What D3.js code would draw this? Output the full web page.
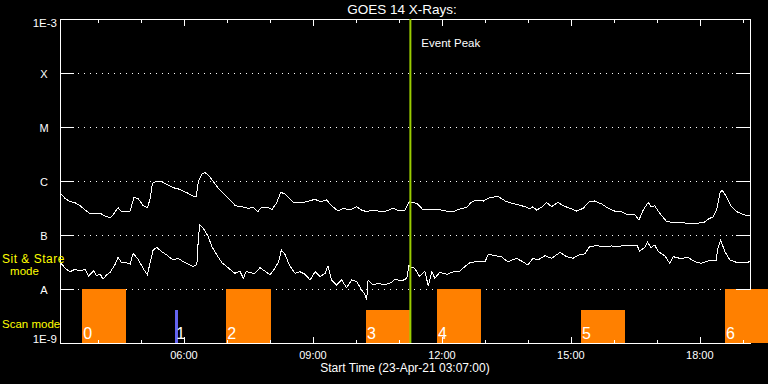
<!DOCTYPE html>
<html><head><meta charset="utf-8">
<script src="https://cdn.jsdelivr.net/npm/d3@7"></script>
<style>
html,body{margin:0;padding:0;background:#000;}
svg{display:block;}
text{font-family:"Liberation Sans",Arial,sans-serif;fill:#fff;}
</style></head><body>
<svg id="c" width="768" height="384"></svg>
<script>
// ---------- data ----------
const chartTitle = "GOES 14 X-Rays:";
const startLabel = "Start Time (23-Apr-21 03:07:00)";
const startTime = "03:07";
const endMinutes = 963;
const eventLabel = "Event Peak";
const eventTime = "11:16";

const yTickValues = [1e-9, 1e-8, 1e-7, 1e-6, 1e-5, 1e-4, 1e-3];
const yTickLabels = ["1E-9", "A", "B", "C", "M", "X", "1E-3"];
const xTickLabels = ["06:00", "09:00", "12:00", "15:00", "18:00"];

// 1-8 Angstrom channel (upper curve): minutes after start, flux W/m^2
const longMinutes = [0,7,14,21,28,35,42,49,56,63,70,74,81,86,93,98,103,109,116,122,126,129,135,142,149,158,167,177,186,190,193,198,202,207,214,223,233,242,
244,254,263,270,276,281,291,296,302,308,313,319,326,335,344,356,363,372,379,388,395,405,414,421,428,435,444,453,465,472,481,486,
488,498,507,516,526,535,549,560,567,574,581,591,600,612,623,637,649,656,660,665,672,679,686,695,702,712,721,730,
739,746,756,765,774,784,793,802,808,814,821,825,830,837,847,856,867,877,886,898,905,912,917,921,924,930,937,946,956,963];
const longFlux = [6.07e-7,4.78e-7,4.14e-7,3.96e-7,3.49e-7,2.90e-7,2.48e-7,2.45e-7,2.52e-7,2.25e-7,2.06e-7,2.35e-7,3.20e-7,2.70e-7,2.70e-7,2.78e-7,4.90e-7,4.78e-7,3.49e-7,3.20e-7,4.78e-7,9.07e-7,1.00e-6,9.70e-7,8.69e-7,7.52e-7,7.02e-7,6.07e-7,5.28e-7,5.12e-7,9.70e-7,1.33e-6,1.45e-6,1.29e-6,9.70e-7,6.81e-7,5.12e-7,3.86e-7,
3.49e-7,3.34e-7,3.12e-7,3.25e-7,2.70e-7,3.25e-7,3.20e-7,2.99e-7,3.86e-7,6.07e-7,5.92e-7,4.90e-7,4.03e-7,3.91e-7,4.14e-7,4.58e-7,4.14e-7,4.45e-7,3.49e-7,2.78e-7,3.12e-7,2.90e-7,3.34e-7,2.90e-7,2.70e-7,2.90e-7,2.78e-7,2.70e-7,3.12e-7,2.82e-7,2.82e-7,3.86e-7,
4.14e-7,3.86e-7,2.90e-7,2.99e-7,3.03e-7,2.82e-7,2.70e-7,3.12e-7,3.20e-7,4.03e-7,4.45e-7,4.26e-7,4.99e-7,5.12e-7,4.14e-7,3.70e-7,3.34e-7,3.03e-7,3.34e-7,2.90e-7,3.25e-7,4.03e-7,3.34e-7,4.03e-7,3.49e-7,3.12e-7,2.78e-7,3.12e-7,
4.14e-7,4.26e-7,3.75e-7,3.12e-7,2.78e-7,2.70e-7,2.35e-7,2.42e-7,1.90e-7,2.90e-7,4.03e-7,3.34e-7,3.49e-7,2.52e-7,1.76e-7,1.72e-7,1.69e-7,1.65e-7,1.65e-7,1.69e-7,1.98e-7,2.18e-7,3.12e-7,5.92e-7,6.81e-7,5.12e-7,3.34e-7,2.63e-7,2.35e-7,2.28e-7];

// 0.5-4 Angstrom channel (lower curve)
const shortMinutes = [0,7,14,21,28,35,40,47,51,56,60,65,70,77,81,86,93,98,102,109,116,122,126,130,135,142,149,158,165,172,179,186,191,193,195,200,207,212,219,226,233,242,
244,251,256,260,265,272,279,286,293,300,305,309,314,319,323,328,335,342,349,356,363,370,374,379,386,393,400,407,414,421,426,428,430,437,444,453,463,467,477,484,487,
488,495,502,509,514,519,523,530,540,549,558,565,572,581,593,598,607,616,625,637,646,653,660,667,677,686,698,707,716,726,730,
733,739,749,760,770,779,788,798,805,809,816,820,825,830,835,844,851,856,865,877,886,895,905,916,918,922,928,935,944,956,963];
const shortFlux = [3.20e-8,2.42e-8,2.09e-8,2.32e-8,2.15e-8,2.32e-8,1.74e-8,2.15e-8,1.76e-8,1.90e-8,1.51e-8,1.82e-8,2.04e-8,2.87e-8,3.86e-8,3.07e-8,3.07e-8,2.87e-8,4.58e-8,3.55e-8,2.42e-8,1.82e-8,3.20e-8,5.28e-8,5.92e-8,4.90e-8,4.26e-8,3.44e-8,3.70e-8,3.20e-8,2.90e-8,2.59e-8,2.87e-8,8.08e-8,1.53e-7,1.33e-7,9.30e-8,6.07e-8,4.26e-8,3.07e-8,2.59e-8,2.04e-8,
1.95e-8,2.15e-8,1.58e-8,2.15e-8,2.00e-8,1.95e-8,2.48e-8,2.15e-8,1.82e-8,2.42e-8,3.20e-8,5.28e-8,4.39e-8,2.99e-8,2.42e-8,1.95e-8,2.09e-8,1.87e-8,1.47e-8,2.09e-8,1.69e-8,1.95e-8,2.70e-8,1.47e-8,1.19e-8,1.47e-8,1.06e-8,1.47e-8,1.37e-8,9.58e-9,7.74e-9,6.26e-9,1.47e-8,1.19e-8,1.27e-8,1.19e-8,1.33e-8,1.51e-8,1.41e-8,1.58e-8,2.78e-8,
2.59e-8,2.42e-8,1.69e-8,2.15e-8,1.15e-8,2.09e-8,1.58e-8,2.04e-8,1.87e-8,2.09e-8,2.15e-8,2.59e-8,3.07e-8,3.20e-8,3.20e-8,4.39e-8,4.14e-8,3.96e-8,3.20e-8,3.70e-8,3.20e-8,2.78e-8,3.70e-8,3.44e-8,4.14e-8,3.70e-8,4.78e-8,3.96e-8,3.70e-8,4.39e-8,4.26e-8,
4.58e-8,6.07e-8,6.34e-8,6.07e-8,6.26e-8,6.07e-8,6.53e-8,6.26e-8,6.53e-8,5.06e-8,5.84e-8,7.33e-8,5.84e-8,6.53e-8,4.90e-8,4.14e-8,2.99e-8,3.96e-8,3.70e-8,3.80e-8,3.20e-8,2.99e-8,3.30e-8,3.44e-8,5.67e-8,8.08e-8,4.90e-8,3.44e-8,3.12e-8,3.07e-8,3.20e-8];

// observation blocks
const obsLabels = ["0", "1", "2", "3", "4", "5", "6"];
const obsStart = ["03:38", "05:48", "06:59", "10:14", "11:53", "15:14", "18:35"];
const obsEnd   = ["04:39", "05:51", "08:01", "11:15", "12:55", "16:15", "19:35"];
const obsLevel = [1e-8, 4.1e-9, 1e-8, 4.1e-9, 1e-8, 4.1e-9, 1e-8];
const obsType  = ["raster", "stare", "raster", "raster", "raster", "raster", "raster"];

const modeLabels = ["Sit & Stare", "mode", "Scan mode"];

// ---------- drawing ----------
const svg = d3.select("#c");
const L = 60, R = 750, T = 19, B = 343;
const [sh, sm] = startTime.split(":").map(Number);
const t0 = Date.UTC(2021, 3, 23, sh, sm);
const toDate = m => new Date(t0 + m * 60000);
const hm = s => { const [h, mi] = s.split(":").map(Number); return new Date(Date.UTC(2021, 3, 23, h, mi)); };

const x = d3.scaleUtc().domain([toDate(0), toDate(endMinutes)]).range([L, R]);
const y = d3.scaleLog().domain([1e-9, 1e-3]).range([B, T]);

svg.append("rect").attr("width", 768).attr("height", 384).attr("fill", "#000");

const g = svg.append("g").attr("shape-rendering", "crispEdges");

// dotted grid
const inner = yTickValues.slice(1, -1);
g.selectAll(".grid").data(inner).join("line")
  .attr("x1", L).attr("x2", R)
  .attr("y1", d => Math.round(y(d)) + 0.5).attr("y2", d => Math.round(y(d)) + 0.5)
  .attr("stroke", "#fff").attr("stroke-dasharray", "1,5");

// right axis line (under blocks)
g.append("line").attr("x1", R + 0.5).attr("x2", R + 0.5).attr("y1", T).attr("y2", B + 1).attr("stroke", "#fff");

// blocks
const typeColor = { raster: "#ff8000", stare: "#6464f0" };
g.selectAll(".blk").data(obsLabels).join("rect")
  .attr("x", (d, i) => x(hm(obsStart[i])))
  .attr("width", (d, i) => x(hm(obsEnd[i])) - x(hm(obsStart[i])))
  .attr("y", (d, i) => y(obsLevel[i]))
  .attr("height", (d, i) => B - y(obsLevel[i]))
  .attr("fill", (d, i) => typeColor[obsType[i]]);

// y ticks both sides
inner.forEach(v => {
  const yy = Math.round(y(v)) + 0.5;
  g.append("line").attr("x1", L).attr("x2", L + 14).attr("y1", yy).attr("y2", yy).attr("stroke", "#fff");
  g.append("line").attr("x1", R - 14).attr("x2", R + 1).attr("y1", yy).attr("y2", yy).attr("stroke", "#fff");
});

// x ticks
const majorHours = xTickLabels.map(s => +s.split(":")[0]);
const hours = d3.utcHour.range(toDate(0), toDate(endMinutes));
hours.forEach(h => {
  const xx = Math.round(x(h)) + 0.5;
  const len = majorHours.includes(h.getUTCHours()) ? 6 : 3;
  g.append("line").attr("x1", xx).attr("x2", xx).attr("y1", T).attr("y2", T + len + 0.5).attr("stroke", "#fff");
  g.append("line").attr("x1", xx).attr("x2", xx).attr("y1", B - len).attr("y2", B).attr("stroke", "#fff");
});

// axis frame
g.append("line").attr("x1", L + 0.5).attr("x2", L + 0.5).attr("y1", T).attr("y2", B + 1).attr("stroke", "#fff");
g.append("line").attr("x1", L).attr("x2", R + 1).attr("y1", T + 0.5).attr("y2", T + 0.5).attr("stroke", "#fff");
g.append("line").attr("x1", L).attr("x2", R + 1).attr("y1", B + 0.5).attr("y2", B + 0.5).attr("stroke", "#fff");

// curves
const line = (mins, flux) => d3.line().x((d, i) => x(toDate(mins[i]))).y((d, i) => y(flux[i]))(mins);
svg.append("path").attr("d", line(longMinutes, longFlux)).attr("fill", "none").attr("stroke", "#fff").attr("stroke-width", 1).attr("shape-rendering", "crispEdges");
svg.append("path").attr("d", line(shortMinutes, shortFlux)).attr("fill", "none").attr("stroke", "#fff").attr("stroke-width", 1).attr("shape-rendering", "crispEdges");

// event line
const ex = x(hm(eventTime));
svg.append("line").attr("x1", ex).attr("x2", ex).attr("y1", T).attr("y2", B)
  .attr("stroke", "#99cc00").attr("stroke-width", 2);
svg.append("text").attr("x", ex + 11).attr("y", 46.5).attr("font-size", 11.5).text(eventLabel);

// block numbers
svg.selectAll(".num").data(obsLabels).join("text")
  .attr("x", (d, i) => x(hm(obsStart[i])) + 1)
  .attr("y", 339).attr("font-size", 16).text(d => d);

// y labels
yTickValues.forEach((v, i) => {
  const lab = yTickLabels[i];
  const t = svg.append("text").attr("font-size", 11.5).text(lab);
  if (i === 0) t.attr("x", 57).attr("y", y(v)).attr("text-anchor", "end");
  else if (i === yTickValues.length - 1) t.attr("x", 57).attr("y", y(v) + 8).attr("text-anchor", "end");
  else t.attr("x", 44).attr("y", y(v) + 4.5).attr("text-anchor", "middle").attr("font-size", 11);
});

// x tick labels
xTickLabels.forEach(s => {
  svg.append("text").attr("x", x(hm(s))).attr("y", 359).attr("text-anchor", "middle").attr("font-size", 11).text(s);
});

svg.append("text").attr("x", (L + R) / 2).attr("y", 372).attr("text-anchor", "middle").attr("font-size", 12).text(startLabel);
svg.append("text").attr("x", 402).attr("y", 14).attr("text-anchor", "middle").attr("font-size", 13.5).text(chartTitle);

// mode labels
svg.append("text").attr("x", 2).attr("y", 263).attr("font-size", 12).attr("letter-spacing", 0.5).style("fill", "#ffff00").text(modeLabels[0]);
svg.append("text").attr("x", 24.5).attr("y", 274.5).attr("font-size", 11.5).attr("text-anchor", "middle").style("fill", "#ffff00").text(modeLabels[1]);
svg.append("text").attr("x", 2).attr("y", 327.5).attr("font-size", 11.5).style("fill", "#ffff00").text(modeLabels[2]);
</script>
</body></html>
